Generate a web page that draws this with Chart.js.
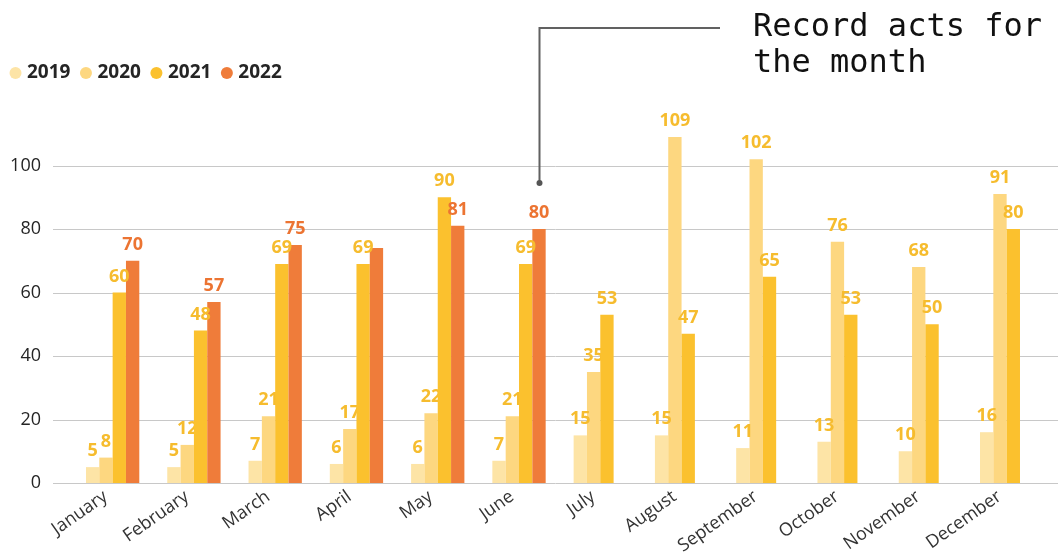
<!DOCTYPE html>
<html>
<head>
<meta charset="utf-8">
<script src="https://cdn.jsdelivr.net/npm/chart.js@4.4.1/dist/chart.umd.min.js"></script>
<style>
  body { margin: 0; background: #fff; }
  canvas { display: block; }
</style>
</head>
<body>
<canvas id="barChart" width="1058" height="555"></canvas>
<script>
const months = ['January', 'February', 'March', 'April', 'May', 'June', 'July',
  'August', 'September', 'October', 'November', 'December'];
const years = ['2019', '2020', '2021', '2022'];
const acts2019 = [5, 5, 7, 6, 6, 7, 15, 15, 11, 13, 10, 16];
const acts2020 = [8, 12, 21, 17, 22, 21, 35, 109, 102, 76, 68, 91];
const acts2021 = [60, 48, 69, 69, 90, 69, 53, 47, 65, 53, 50, 80];
const acts2022 = [70, 57, 75, 74, 81, 80, null, null, null, null, null, null];
const yTicks = [0, 20, 40, 60, 80, 100];
// label for April 2022 is not shown in the original
const hiddenLabels = [[3, 3]];
const noteLines = ['Record acts for', 'the month'];

const barColors = ['#FDE4A6', '#FDD780', '#FBC12E', '#EF7C3A'];
const labelColors = ['#F6BC2E', '#F6BC2E', '#F6BC2E', '#EC7432'];

window.onload = main;

function main(){
    barChart();
}

function drawLabels(chart, i){
    const ctx = chart.ctx;
    const meta = chart.getDatasetMeta(i);
    const values = chart.data.datasets[i].data;
    ctx.save();
    ctx.font = 'bold 18px "Open Sans"';
    ctx.fillStyle = labelColors[i];
    ctx.textAlign = 'center';
    ctx.textBaseline = 'alphabetic';
    meta.data.forEach((bar, j) => {
        if (values[j] == null) return;
        if (hiddenLabels.some(h => h[0] === i && h[1] === j)) return;
        ctx.fillText(String(values[j]), bar.x, bar.y - 11);
    });
    ctx.restore();
}

const customDraw = {
    id: 'customDraw',
    beforeInit(chart){
        // extra room between legend and plot
        const fit = chart.legend.fit;
        chart.legend.fit = function(){
            fit.call(this);
            this.height += 9.5;
        };
    },
    beforeDatasetsDraw(chart){
        const ctx = chart.ctx;
        const y = chart.scales.y;
        // horizontal grid lines, wider than the plot
        ctx.save();
        ctx.strokeStyle = '#C8C8C8';
        ctx.lineWidth = 1;
        yTicks.forEach(v => {
            const py = Math.round(y.getPixelForValue(v)) + 0.5;
            ctx.beginPath();
            ctx.moveTo(53, py);
            ctx.lineTo(chart.width, py);
            ctx.stroke();
        });
        ctx.restore();

        // bars in order 2019 -> 2022, labels between
        const m0 = chart.getDatasetMeta(0), m1 = chart.getDatasetMeta(1);
        const m2 = chart.getDatasetMeta(2), m3 = chart.getDatasetMeta(3);
        m0.controller.draw();
        m1.controller.draw();
        drawLabels(chart, 0);
        drawLabels(chart, 1);
        m2.controller.draw();
        m3.controller.draw();
        drawLabels(chart, 2);
        drawLabels(chart, 3);
        return false;
    },
    afterDraw(chart){
        const ctx = chart.ctx;
        const june = chart.getDatasetMeta(3).data[5];
        const dx = Math.round(june.x) + 0.5;
        const dy = june.y - 46;
        ctx.save();
        ctx.strokeStyle = '#616161';
        ctx.fillStyle = '#555555';
        ctx.lineWidth = 2;
        ctx.beginPath();
        ctx.moveTo(dx, dy);
        ctx.lineTo(dx, 28);
        ctx.lineTo(720, 28);
        ctx.stroke();
        ctx.beginPath();
        ctx.arc(dx, dy, 3, 0, Math.PI * 2);
        ctx.fill();

        ctx.fillStyle = '#111111';
        ctx.font = '32px "DejaVu Sans Mono"';
        ctx.textAlign = 'left';
        ctx.textBaseline = 'alphabetic';
        ctx.fillText(noteLines[0], 753, 36);
        ctx.fillText(noteLines[1], 753, 72);
        ctx.restore();
    }
};

function barChart(){
    const series = [acts2019, acts2020, acts2021, acts2022];
    const datasets = series.map((data, i) => ({
        label: years[i],
        data: data,
        backgroundColor: barColors[i],
        borderWidth: 0,
        barPercentage: 1,
        categoryPercentage: 0.656
    }));

    const ctx = document.getElementById('barChart').getContext('2d');
    new Chart(ctx, {
        type: 'bar',
        data: { labels: months, datasets: datasets },
        options: {
            responsive: false,
            devicePixelRatio: 1,
            animation: false,
            layout: { padding: { top: 50, right: 10.7, bottom: 0, left: 0 } },
            plugins: {
                legend: {
                    display: true,
                    position: 'top',
                    align: 'start',
                    labels: {
                        usePointStyle: true,
                        pointStyle: 'circle',
                        boxWidth: 4,
                        boxHeight: 8.5,
                        padding: 13.5,
                        color: '#252525',
                        font: { family: '"Open Sans"', size: 19, weight: 'bold' }
                    }
                },
                tooltip: { enabled: false }
            },
            scales: {
                x: {
                    grid: { display: false },
                    border: { display: false },
                    ticks: {
                        color: '#333333',
                        font: { family: '"Open Sans"', size: 18 },
                        minRotation: 35,
                        maxRotation: 35,
                        autoSkip: false,
                        padding: -5,
                        labelOffset: -7
                    },
                    afterFit: s => { s.height = 72; }
                },
                y: {
                    min: 0,
                    max: 120,
                    grid: { display: false },
                    border: { display: false },
                    ticks: {
                        stepSize: 20,
                        padding: 23,
                        color: '#252525',
                        font: { family: '"Open Sans"', size: 18 },
                        callback: v => (yTicks.includes(v) ? v : '')
                    },
                    afterFit: s => { s.width = 72; }
                }
            }
        },
        plugins: [customDraw]
    });
}
</script>
</body>
</html>
